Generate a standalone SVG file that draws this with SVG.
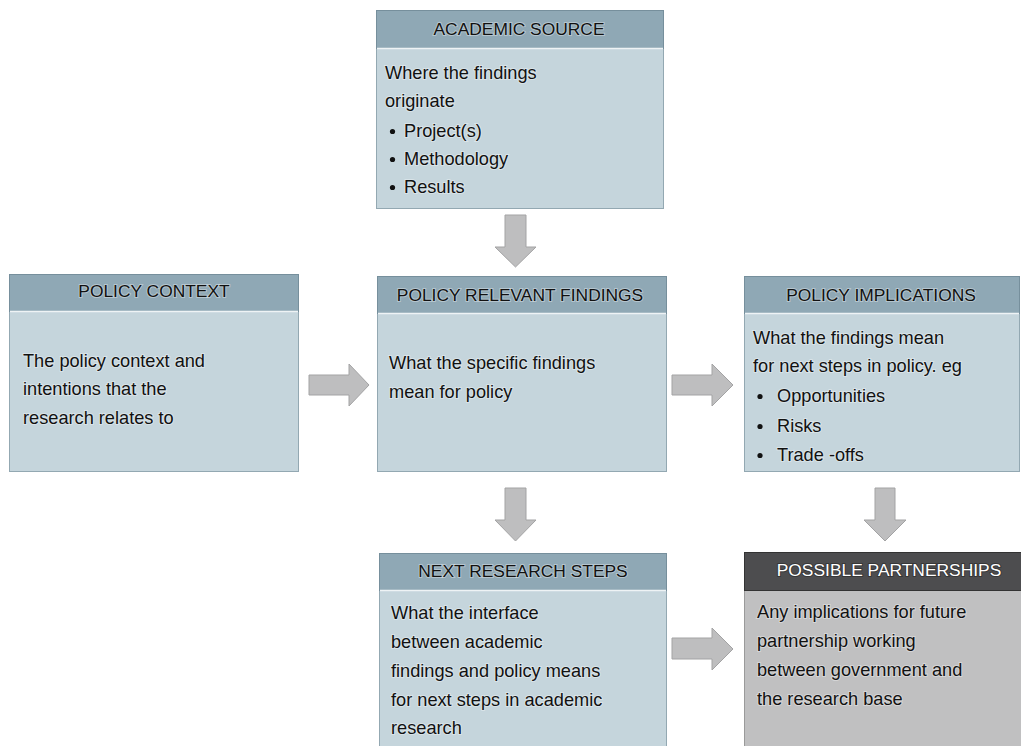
<svg xmlns="http://www.w3.org/2000/svg" width="1021" height="746" viewBox="0 0 1021 746">
  <style>
    .hdr { fill: #8fa8b5; stroke: #768f9c; stroke-width: 1; }
    .hdr-dark { fill: #4d4d4f; stroke: #333; stroke-width: 1; }
    .body { fill: #c5d5dc; stroke: #93a8b2; stroke-width: 1; }
    .body-grey { fill: #c0c0c1; stroke: #9a9a9a; stroke-width: 1; }
    .sep { stroke: #eef3f5; stroke-width: 1.5; }
    .title { font-family: "Liberation Sans", Arial, sans-serif; font-size: 17.4px; fill: #111111; text-anchor: middle; stroke: #ffffff; stroke-opacity: 0.35; stroke-width: 2; paint-order: stroke; }
    .title-light { fill: #ffffff; stroke: #222; stroke-opacity: 0.5; }
    .txt { font-family: "Liberation Sans", Arial, sans-serif; font-size: 18.2px; fill: #111111; stroke: #ffffff; stroke-opacity: 0.35; stroke-width: 2; paint-order: stroke; }
    .dot { fill: #111111; }
    .arrow { fill: #bebebf; stroke: #a3a3a4; stroke-width: 1; }
  </style>

  <!-- source box -->
  <g id="academic-source">
    <rect class="body" x="376.5" y="48.5" width="287" height="160"/>
    <rect class="hdr" x="376.5" y="10.5" width="287" height="38"/>
    <line class="sep" x1="377" y1="48.5" x2="663" y2="48.5"/>
    <text class="title" x="519" y="35">ACADEMIC SOURCE</text>
    <text class="txt" x="385" y="79">Where the findings</text>
    <text class="txt" x="385" y="107">originate</text>
    <circle class="dot" cx="392.5" cy="131.5" r="2.6"/>
    <text class="txt" x="404" y="137">Project(s)</text>
    <circle class="dot" cx="392.5" cy="159.5" r="2.6"/>
    <text class="txt" x="404" y="165">Methodology</text>
    <circle class="dot" cx="392.5" cy="187.5" r="2.6"/>
    <text class="txt" x="404" y="193">Results</text>
  </g>

  <!-- left context box -->
  <g id="policy-context">
    <rect class="body" x="9.5" y="311.5" width="289" height="160"/>
    <rect class="hdr" x="9.5" y="274.5" width="289" height="37"/>
    <line class="sep" x1="10" y1="311.5" x2="298" y2="311.5"/>
    <text class="title" x="154" y="297">POLICY CONTEXT</text>
    <text class="txt" x="23" y="367">The policy context and</text>
    <text class="txt" x="23" y="395">intentions that the</text>
    <text class="txt" x="23" y="424">research relates to</text>
  </g>

  <!-- central findings box -->
  <g id="policy-relevant-findings">
    <rect class="body" x="377.5" y="313.5" width="289" height="158"/>
    <rect class="hdr" x="377.5" y="276.5" width="289" height="37"/>
    <line class="sep" x1="378" y1="313.5" x2="666" y2="313.5"/>
    <text class="title" x="520" y="301">POLICY RELEVANT FINDINGS</text>
    <text class="txt" x="389" y="369">What the specific findings</text>
    <text class="txt" x="389" y="398">mean for policy</text>
  </g>

  <!-- implications box -->
  <g id="policy-implications">
    <rect class="body" x="744.5" y="313.5" width="275" height="158"/>
    <rect class="hdr" x="744.5" y="276.5" width="275" height="37"/>
    <line class="sep" x1="745" y1="313.5" x2="1019" y2="313.5"/>
    <text class="title" x="881" y="301">POLICY IMPLICATIONS</text>
    <text class="txt" x="753" y="344">What the findings mean</text>
    <text class="txt" x="753" y="372">for next steps in policy. eg</text>
    <circle class="dot" cx="760" cy="396.5" r="2.6"/>
    <text class="txt" x="777" y="402">Opportunities</text>
    <circle class="dot" cx="760" cy="426.5" r="2.6"/>
    <text class="txt" x="777" y="432">Risks</text>
    <circle class="dot" cx="760" cy="455.5" r="2.6"/>
    <text class="txt" x="777" y="461">Trade -offs</text>
  </g>

  <!-- next research box -->
  <g id="next-research-steps">
    <rect class="body" x="379.5" y="590.5" width="287" height="160"/>
    <rect class="hdr" x="379.5" y="553.5" width="287" height="37"/>
    <line class="sep" x1="380" y1="590.5" x2="666" y2="590.5"/>
    <text class="title" x="523" y="577">NEXT RESEARCH STEPS</text>
    <text class="txt" x="391" y="619">What the interface</text>
    <text class="txt" x="391" y="648">between academic</text>
    <text class="txt" x="391" y="677">findings and policy means</text>
    <text class="txt" x="391" y="706">for next steps in academic</text>
    <text class="txt" x="391" y="734">research</text>
  </g>

  <!-- partnerships box -->
  <g id="possible-partnerships">
    <rect class="body-grey" x="744.5" y="590.5" width="290" height="160"/>
    <rect class="hdr-dark" x="744.5" y="552.5" width="290" height="38"/>
    <text class="title title-light" x="889" y="576">POSSIBLE PARTNERSHIPS</text>
    <text class="txt" x="757" y="618">Any implications for future</text>
    <text class="txt" x="757" y="647">partnership working</text>
    <text class="txt" x="757" y="676">between government and</text>
    <text class="txt" x="757" y="705">the research base</text>
  </g>

  <!-- block arrows between boxes -->
  <g id="connectors">
    <path class="arrow" d="M505,215 H526 V247 H536 L515.5,267 L495,247 H505 Z"/>
    <path class="arrow" d="M309,375 H349 V364 L369,385 L349,406 V395 H309 Z"/>
    <path class="arrow" d="M672,375 H712 V364 L733,385 L712,406 V395 H672 Z"/>
    <path class="arrow" d="M505,488 H526 V520 H536 L515.5,541 L495,520 H505 Z"/>
    <path class="arrow" d="M875,488 H895 V520 H906 L885,541 L864,520 H875 Z"/>
    <path class="arrow" d="M672,638 H712 V628 L733,649 L712,670 V659 H672 Z"/>
  </g>
</svg>
